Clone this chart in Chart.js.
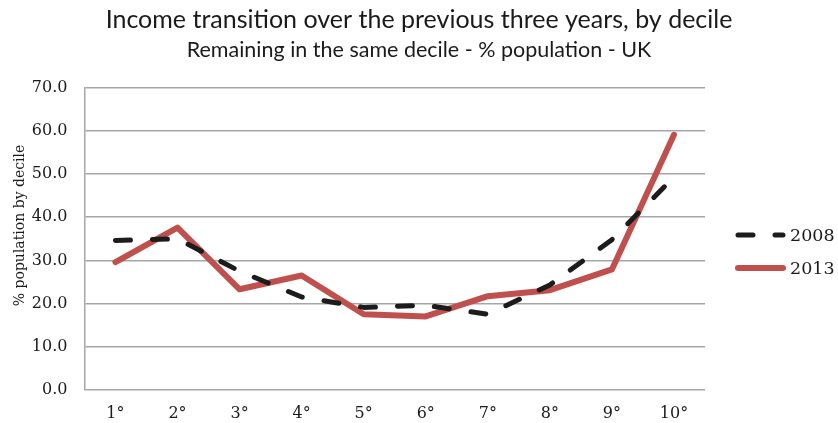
<!DOCTYPE html>
<html>
<head>
<meta charset="utf-8">
<script src="https://cdn.jsdelivr.net/npm/chart.js@4/dist/chart.umd.min.js"></script>
<style>
  html, body { margin: 0; padding: 0; background: #ffffff; }
  canvas { display: block; }
</style>
</head>
<body>
<canvas id="chart" width="838" height="423"></canvas>
<script>
// Share of the population remaining in the same income decile (UK)
const deciles = ['1°', '2°', '3°', '4°', '5°', '6°', '7°', '8°', '9°', '10°'];
const values2008 = [34.6, 35.0, 27.5, 21.5, 19.1, 19.6, 17.5, 24.3, 34.8, 49.3];
const values2013 = [29.6, 37.6, 23.3, 26.5, 17.5, 17.0, 21.7, 23.1, 27.9, 59.1];
const yTicks = [0, 10, 20, 30, 40, 50, 60, 70];

const gridGrey = '#a6a6a6';
const textColor = '#1a1a1a';
const serif = 'DejaVu Serif';
const sans = 'Lato';

// Legend drawn at the right of the plot: a line sample in each series' style plus its label
const sideLegend = {
  id: 'sideLegend',
  afterDraw(chart) {
    const ctx = chart.ctx;
    const x0 = 738, x1 = 783, rows = [235, 268];
    chart.data.datasets.forEach((ds, i) => {
      const y = rows[i];
      ctx.save();
      ctx.strokeStyle = ds.borderColor;
      ctx.lineWidth = ds.borderWidth;
      ctx.lineCap = 'round';
      ctx.setLineDash(ds.borderDash || []);
      ctx.beginPath();
      ctx.moveTo(x0, y);
      ctx.lineTo(x1, y);
      ctx.stroke();
      ctx.setLineDash([]);
      ctx.fillStyle = textColor;
      ctx.font = '17.5px "' + serif + '"';
      ctx.textBaseline = 'middle';
      ctx.textAlign = 'left';
      ctx.fillText(ds.label, 790, y + 1);
      ctx.restore();
    });
  }
};

new Chart(document.getElementById('chart'), {
  type: 'line',
  data: {
    labels: deciles,
    datasets: [
      {
        label: '2008',
        data: values2008,
        borderColor: '#1c1c1c',
        backgroundColor: '#1c1c1c',
        borderWidth: 5,
        borderDash: [15, 22],
        borderCapStyle: 'round',
        borderJoinStyle: 'round',
        pointRadius: 0,
        tension: 0
      },
      {
        label: '2013',
        data: values2013,
        borderColor: '#c0504d',
        backgroundColor: '#c0504d',
        borderWidth: 6,
        borderCapStyle: 'round',
        borderJoinStyle: 'round',
        pointRadius: 0,
        tension: 0
      }
    ]
  },
  plugins: [sideLegend],
  options: {
    responsive: false,
    animation: false,
    layout: { padding: { left: 12, right: 12, top: 5, bottom: -14 } },
    plugins: {
      title: {
        display: true,
        text: 'Income transition over the previous three years, by decile',
        color: textColor,
        font: { family: sans, size: 25, weight: 'normal' },
        padding: { top: 0, bottom: 2 }
      },
      subtitle: {
        display: true,
        text: 'Remaining in the same decile - % population - UK',
        color: textColor,
        font: { family: sans, size: 21.5, weight: 'normal' },
        padding: { top: 0, bottom: 25 }
      },
      legend: { display: false },
      tooltip: { enabled: false }
    },
    scales: {
      x: {
        offset: true,
        grid: { display: false, drawTicks: false },
        border: { display: false },
        ticks: {
          color: textColor,
          font: { family: serif, size: 16 },
          padding: 14,
          maxRotation: 0
        }
      },
      y: {
        min: 0,
        max: 70,
        afterBuildTicks(axis) { axis.ticks = yTicks.map(v => ({ value: v })); },
        grid: { color: gridGrey, lineWidth: 1.5, drawTicks: false },
        border: { display: true, color: gridGrey, width: 1.5 },
        ticks: {
          color: textColor,
          font: { family: serif, size: 16 },
          padding: 17,
          callback: v => Number(v).toFixed(1)
        },
        title: {
          display: true,
          text: '\u00a0\u00a0\u00a0\u00a0\u00a0\u00a0% population by decile',
          color: textColor,
          font: { family: serif, size: 14 },
          padding: { top: 0, bottom: -14 }
        }
      },
      // empty right-hand axis that reserves the space where the legend sits
      side: {
        type: 'linear',
        position: 'right',
        grid: { display: false, drawTicks: false },
        border: { display: false },
        ticks: { display: false },
        afterFit(scale) { scale.width = 121; }
      }
    }
  }
});
</script>
</body>
</html>
